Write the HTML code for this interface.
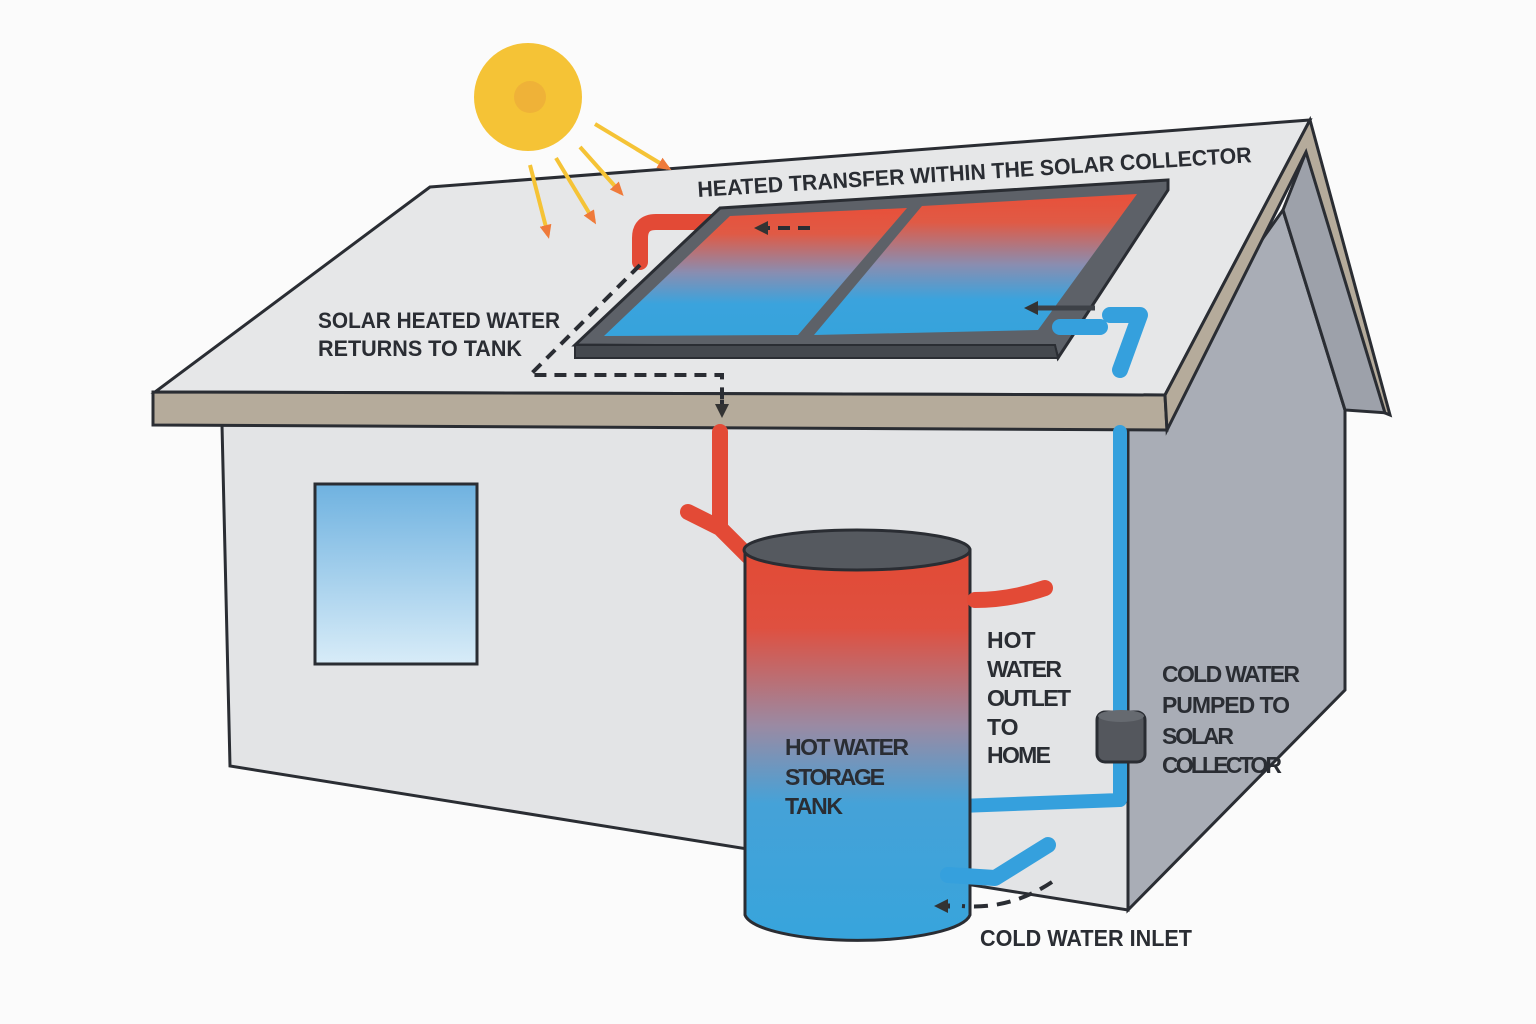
<!DOCTYPE html>
<html><head><meta charset="utf-8"><style>
html,body{margin:0;padding:0;background:#fbfbfb}
svg{display:block}
text{font-family:"Liberation Sans",sans-serif;font-weight:bold;fill:#2a2d33}
</style></head><body>
<svg width="1536" height="1024" viewBox="0 0 1536 1024" xmlns="http://www.w3.org/2000/svg">
<defs>
<linearGradient id="pg" x1="0" y1="0" x2="0" y2="1">
<stop offset="0" stop-color="#e8503a"/><stop offset="0.2" stop-color="#e05a45"/><stop offset="0.5" stop-color="#8a8db0"/><stop offset="0.75" stop-color="#3aa3dd"/><stop offset="1" stop-color="#36a3dc"/></linearGradient>
<linearGradient id="tg" x1="0" y1="0" x2="0" y2="1">
<stop offset="0" stop-color="#e24a35"/><stop offset="0.2" stop-color="#df5040"/><stop offset="0.45" stop-color="#9a8aa3"/><stop offset="0.65" stop-color="#45a2d8"/><stop offset="1" stop-color="#37a4dc"/></linearGradient>
<linearGradient id="wg" x1="0" y1="0" x2="0" y2="1">
<stop offset="0" stop-color="#6fb2e0"/><stop offset="1" stop-color="#d8ecf8"/></linearGradient>
<marker id="ah" markerWidth="16" markerHeight="16" refX="6" refY="8" orient="auto" markerUnits="userSpaceOnUse"><path d="M0,1 L14,8 L0,15z" fill="#333"/></marker>
<marker id="ay" markerWidth="16" markerHeight="16" refX="10" refY="8" orient="auto" markerUnits="userSpaceOnUse"><path d="M0,2 L14,8 L0,14z" fill="#ef7a3a"/></marker>
</defs>
<polygon points="1128,428 1283,210 1345,410 1345,690 1128,910" fill="#a9adb6" stroke="#2a2d33" stroke-width="3"/>
<polygon points="1306,152 1388,413 1345,410 1283,210" fill="#9da1aa" stroke="#2a2d33" stroke-width="3"/>
<polygon points="222,425 1128,428 1128,910 230,766" fill="#e3e4e6" stroke="#2a2d33" stroke-width="3"/>
<rect x="315" y="484" width="162" height="180" fill="url(#wg)" stroke="#2a2d33" stroke-width="3"/>
<polygon points="430,187 1310,120 1165,395 155,392" fill="#e6e7e8" stroke="#2a2d33" stroke-width="3"/>
<polygon points="153,392 1165,395 1167,430 153,425" fill="#b5ab9b" stroke="#2a2d33" stroke-width="3"/>
<polygon points="1165,395 1310,120 1390,415 1385,413 1306,152 1167,430" fill="#b5ab9b" stroke="#2a2d33" stroke-width="3"/>
<circle cx="528" cy="97" r="54" fill="#f5c336"/>
<circle cx="530" cy="97" r="16" fill="#eaa23a" opacity="0.5"/>
<g stroke="#f5c336" stroke-width="4">
<line x1="595" y1="124" x2="668" y2="168" marker-end="url(#ay)"/>
<line x1="580" y1="147" x2="621" y2="193" marker-end="url(#ay)"/>
<line x1="556" y1="158" x2="594" y2="221" marker-end="url(#ay)"/>
<line x1="530" y1="165" x2="548" y2="235" marker-end="url(#ay)"/>
</g>
<path d="M640,262 L640,238 Q640,222 656,222 L725,222" fill="none" stroke="#e34a36" stroke-width="16" stroke-linecap="round"/>
<polygon points="720,208 1168,180 1168,190 1058,358 1055,348 575,345" fill="#5d6168" stroke="#2a2d33" stroke-width="3"/>
<polygon points="575,345 1055,345 1058,358 575,358" fill="#44484e" stroke="#2a2d33" stroke-width="2"/>
<polygon points="730,216 907,208 798,335 604,336" fill="url(#pg)"/>
<polygon points="922,206 1137,194 1038,330 814,335" fill="url(#pg)"/>
<path d="M1060,327 L1100,327 M1110,315 L1140,315 L1120,370" fill="none" stroke="#35a0dd" stroke-width="16" stroke-linecap="round" stroke-linejoin="round"/>
<path d="M1095,308 L1032,308" stroke="#3d4147" stroke-width="5" marker-end="url(#ah)"/>
<path d="M810,228 L762,228" stroke="#2a2d33" stroke-width="4" stroke-dasharray="12,8" marker-end="url(#ah)"/>
<path d="M640,265 L530,375 L722,375 L722,405" fill="none" stroke="#2a2d33" stroke-width="4" stroke-dasharray="12,8"/>
<path d="M722,400 L722,410" stroke="#2a2d33" stroke-width="4" marker-end="url(#ah)"/>
<path d="M720,432 L720,528 M688,512 L720,528 L760,568" fill="none" stroke="#e34a36" stroke-width="16" stroke-linecap="round" stroke-linejoin="round"/>
<path d="M1120,432 L1120,800 L960,806" fill="none" stroke="#35a0dd" stroke-width="14" stroke-linecap="round" stroke-linejoin="round"/>
<rect x="1097" y="712" width="48" height="50" rx="8" fill="#54575d" stroke="#2a2d33" stroke-width="3"/>
<ellipse cx="1121" cy="716" rx="23" ry="6" fill="#666a70"/>
<path d="M745,550 L745,915 A113,28 0 0 0 970,915 L970,550 Z" fill="url(#tg)" stroke="#2a2d33" stroke-width="3"/>
<ellipse cx="857" cy="550" rx="113" ry="20" fill="#55595f" stroke="#2a2d33" stroke-width="3"/>
<path d="M975,600 Q1010,600 1045,588" fill="none" stroke="#e34a36" stroke-width="16" stroke-linecap="round"/>
<path d="M948,875 L995,878 L1048,845" fill="none" stroke="#35a0dd" stroke-width="16" stroke-linecap="round" stroke-linejoin="round"/>
<path d="M1052,882 Q1010,910 962,906" fill="none" stroke="#2a2d33" stroke-width="4" stroke-dasharray="14,9"/>
<path d="M950,906 L942,906" stroke="#2a2d33" stroke-width="5" marker-end="url(#ah)"/>
<text x="698" y="197" font-size="22" textLength="555" lengthAdjust="spacingAndGlyphs" transform="rotate(-3.6 698 197)">HEATED TRANSFER WITHIN THE SOLAR COLLECTOR</text>
<text x="318" y="328" font-size="22" textLength="242" lengthAdjust="spacingAndGlyphs">SOLAR HEATED WATER</text>
<text x="318" y="356" font-size="22" textLength="204" lengthAdjust="spacingAndGlyphs">RETURNS TO TANK</text>
<text font-size="23" lengthAdjust="spacingAndGlyphs"><tspan x="785" y="755" textLength="124">HOT WATER</tspan><tspan x="785" y="785" textLength="100">STORAGE</tspan><tspan x="785" y="814" textLength="58">TANK</tspan></text>
<text font-size="23" lengthAdjust="spacingAndGlyphs"><tspan x="987" y="648">HOT</tspan><tspan x="987" y="677" textLength="75">WATER</tspan><tspan x="987" y="706" textLength="84">OUTLET</tspan><tspan x="987" y="735">TO</tspan><tspan x="987" y="763" textLength="64">HOME</tspan></text>
<text font-size="23" lengthAdjust="spacingAndGlyphs"><tspan x="1162" y="682" textLength="138">COLD WATER</tspan><tspan x="1162" y="713" textLength="128">PUMPED TO</tspan><tspan x="1162" y="744" textLength="72">SOLAR</tspan><tspan x="1162" y="773" textLength="120">COLLECTOR</tspan></text>
<text x="980" y="946" font-size="23" textLength="212" lengthAdjust="spacingAndGlyphs">COLD WATER INLET</text>
</svg>
</body></html>
